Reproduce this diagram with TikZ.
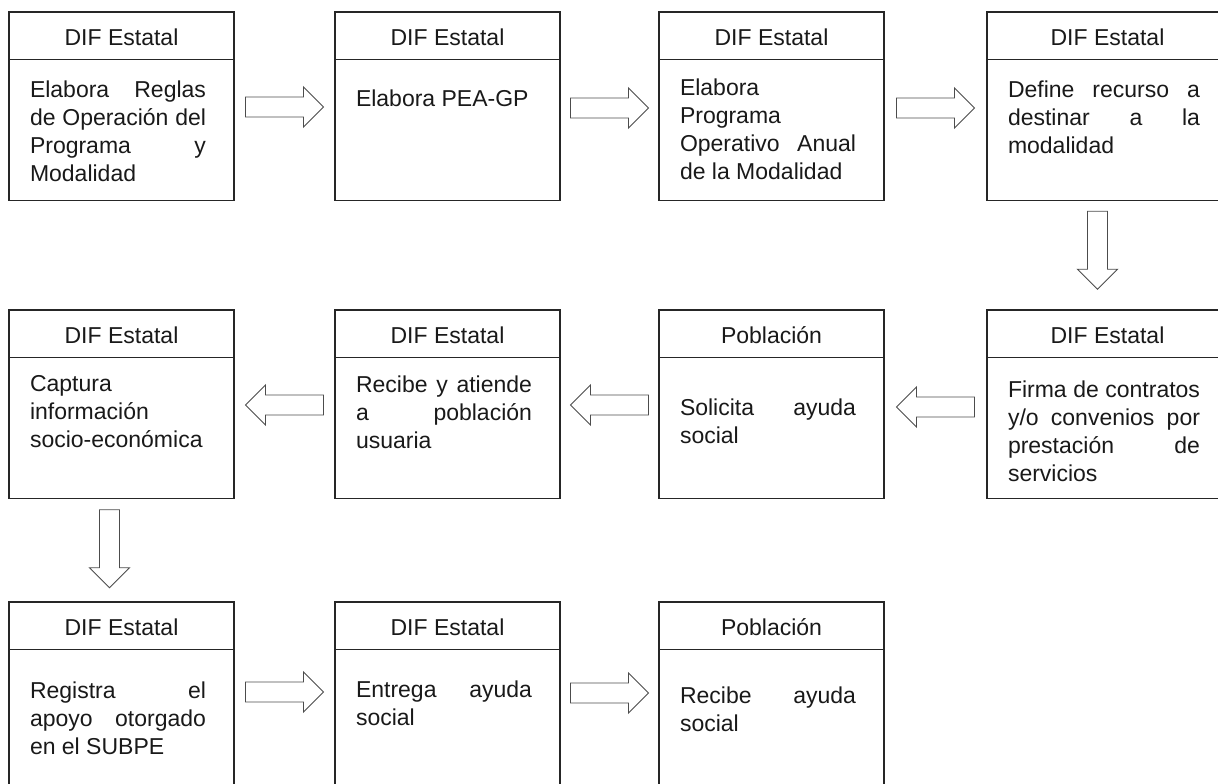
\documentclass[tikz,border=0pt]{standalone}
\usepackage{fontspec}
\setmainfont{Liberation Sans}
\usetikzlibrary{positioning}
\usetikzlibrary{calc}

\newcommand{\steptext}[3][176pt]{%
	\parbox[t][141pt][t]{\dimexpr#1+49pt\relax}{%
		\leftskip=21pt \rightskip=28pt
		\tolerance=10000 \hbadness=10000 \hyphenpenalty=10000
		\vspace*{#2}\strut#3}}

\begin{document}
\begin{tikzpicture}
	[x=1pt, y=-1pt, node distance=0pt,
	head/.style = {draw=black!85, line width=1.2pt, inner sep=0pt, outer sep=0pt, anchor=north west, minimum width=225pt, minimum height=47.5pt, text height=20pt, text depth=0pt, font=\fontsize{23}{28.3}\selectfont, text=black!90},
	main/.style = {draw=black!85, line width=1.2pt, inner sep=0pt, outer sep=0pt, font=\fontsize{23}{28.3}\selectfont, text=black!90},
	blockarrow/.pic = {\draw[black!70, line width=0.9pt, line join=miter] (-39,-10) -- (19,-10) -- (19,-20) -- (39,0) -- (19,20) -- (19,10) -- (-39,10) -- cycle;}]
	\useasboundingbox (0,0) rectangle (1218,784);
	% first row
	\node[head] (t1) at (9,12) {DIF Estatal};
	\node[head] (t2) at (335,12) {DIF Estatal};
	\node[head] (t3) at (659,12) {DIF Estatal};
	\node[head, minimum width=241pt] (t4) at (987,12) {DIF Estatal};
	\node[main] (1) [below = of t1] {\steptext{17.7pt}{Elabora Reglas\linebreak de Operación del\linebreak Programa y\linebreak Modalidad}};
	\node[main] (2) [below = of t2] {\steptext{26.7pt}{Elabora PEA-GP}};
	\node[main] (3) [below = of t3] {\steptext{15.7pt}{Elabora\linebreak Programa\linebreak Operativo Anual\linebreak de la Modalidad}};
	\node[main] (4) [below = of t4] {\steptext[192pt]{17.7pt}{Define recurso a\linebreak destinar a la\linebreak modalidad}};
	% second row
	\node[head, minimum width=241pt] (t5) at (987,310) {DIF Estatal};
	\node[head] (t6) at (659,310) {Población};
	\node[head] (t7) at (335,310) {DIF Estatal};
	\node[head] (t8) at (9,310) {DIF Estatal};
	\node[main] (5) [below = of t5] {\steptext[192pt]{19.7pt}{Firma de contratos\linebreak y/o convenios por\linebreak prestación de\linebreak servicios}};
	\node[main] (6) [below = of t6] {\steptext{37.7pt}{Solicita ayuda\linebreak social}};
	\node[main] (7) [below = of t7] {\steptext{14.7pt}{Recibe y atiende\linebreak a población\linebreak usuaria}};
	\node[main] (8) [below = of t8] {\steptext{13.7pt}{Captura\linebreak información\linebreak socio-económica}};
	% third row
	\node[head] (t9) at (9,602) {DIF Estatal};
	\node[head] (t10) at (335,602) {DIF Estatal};
	\node[head] (t11) at (659,602) {Población};
	\node[main] (9) [below = of t9] {\steptext{28.7pt}{Registra el\linebreak apoyo otorgado\linebreak en el SUBPE}};
	\node[main] (10) [below = of t10] {\steptext{27.7pt}{Entrega ayuda\linebreak social}};
	\node[main] (11) [below = of t11] {\steptext{33.7pt}{Recibe ayuda\linebreak social}};
	% arrows
	\pic at ($(1.east)!0.5!(2.west)+(0,-23)$) {blockarrow};
	\pic at ($(2.east)!0.5!(3.west)+(0,-22)$) {blockarrow};
	\pic at ($(3.east)!0.5!(4.west)+(0,-22)$) {blockarrow};
	\pic[rotate=-90] at ($(4.south)!0.5!(t5.north)+(-10,-5)$) {blockarrow};
	\pic[rotate=180] at ($(5.west)!0.5!(6.east)+(0,-21)$) {blockarrow};
	\pic[rotate=180] at ($(6.west)!0.5!(7.east)+(0,-23)$) {blockarrow};
	\pic[rotate=180] at ($(7.west)!0.5!(8.east)+(0,-23)$) {blockarrow};
	\pic[rotate=-90] at ($(8.south)!0.5!(t9.north)+(-12,-1.5)$) {blockarrow};
	\pic at ($(9.east)!0.5!(10.west)+(0,-28)$) {blockarrow};
	\pic at ($(10.east)!0.5!(11.west)+(0,-27)$) {blockarrow};
\end{tikzpicture}
\end{document}
